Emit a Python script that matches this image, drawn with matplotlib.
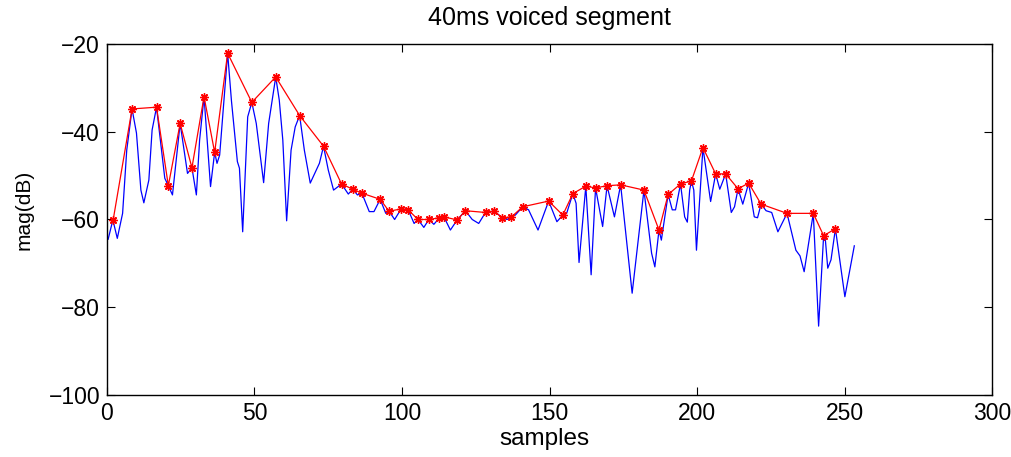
import matplotlib
matplotlib.use("Agg")
import matplotlib.pyplot as plt

plt.rcParams['font.family'] = ['Liberation Sans', 'DejaVu Sans']

# magnitude spectrum of the segment (sample index, dB)
spec_x = [0.4, 2.0, 3.5, 5.3, 6.7, 8.5, 10.0, 11.5, 12.5, 14.2, 15.3, 16.8, 19.6, 20.8, 22.2,
          24.8, 27.3, 28.8, 30.3, 31.4, 32.9, 35.1, 36.5, 37.3, 38.2, 40.9, 42.2, 44.2, 44.9,
          46.0, 47.7, 49.1, 50.6, 53.1, 54.8, 57.2, 58.4, 59.6, 60.9, 62.4, 63.8, 65.3, 66.9,
          68.9, 72.0, 73.4, 75.0, 76.8, 79.5, 81.8, 83.3, 84.9, 86.4, 88.9, 90.5, 92.6, 94.5,
          95.6, 97.5, 99.7, 102.1, 104.1, 105.4, 107.4, 109.1, 110.8, 112.7, 114.2, 116.4,
          118.7, 121.5, 123.8, 126.0, 128.3, 131.2, 134.0, 135.6, 137.1, 138.4, 140.9, 142.9,
          146.1, 149.7, 152.5, 154.5, 155.8, 157.9, 159.0, 160.0, 162.3, 164.1, 165.6, 168.0,
          169.5, 172.0, 174.1, 178.0, 182.0, 184.6, 185.7, 187.1, 187.9, 190.2, 191.6, 192.7,
          194.4, 195.8, 196.7, 197.5, 198.1, 198.9, 199.8, 202.0, 204.6, 206.3, 207.7, 209.7,
          211.6, 212.7, 213.9, 215.5, 217.5, 219.4, 220.5, 221.7, 223.4, 225.3, 227.4, 230.5,
          233.5, 234.9, 236.3, 239.4, 241.2, 242.9, 243.5, 244.3, 245.4, 246.9, 250.1, 253.3]
spec_db = [-64.5, -60.1, -64.3, -58.6, -44.2, -34.8, -40.3, -53.3, -56.2, -51.0, -39.6, -34.4,
           -50.6, -52.3, -54.4, -38.1, -49.5, -48.2, -54.4, -41.9, -32.0, -52.5, -44.7, -47.2,
           -45.3, -22.1, -33.0, -46.8, -48.3, -62.8, -36.6, -33.3, -38.1, -51.6, -38.1, -27.5,
           -32.8, -41.9, -60.3, -44.2, -38.9, -36.3, -44.2, -51.7, -47.2, -43.3, -48.7, -53.3,
           -51.9, -54.2, -53.1, -54.4, -54.0, -58.2, -58.2, -55.4, -58.6, -58.1, -60.0, -57.6,
           -57.8, -60.9, -60.0, -61.8, -60.0, -61.1, -59.6, -59.4, -62.4, -60.1, -58.0, -60.0,
           -60.9, -58.4, -58.1, -59.6, -60.0, -59.4, -59.0, -57.1, -57.8, -62.4, -55.8, -60.5,
           -59.0, -58.6, -54.1, -56.3, -69.8, -52.4, -72.6, -52.8, -61.6, -52.3, -59.4, -52.1,
           -76.8, -53.3, -67.7, -70.8, -62.4, -64.7, -54.3, -57.8, -57.8, -51.9, -59.4, -60.6,
           -53.3, -51.2, -53.3, -67.0, -43.6, -55.9, -49.6, -53.1, -49.6, -58.4, -57.1, -53.0,
           -56.5, -51.7, -59.4, -59.6, -56.5, -58.0, -58.4, -62.8, -58.6, -67.0, -68.3, -71.9,
           -58.6, -84.3, -63.7, -64.7, -71.1, -69.2, -62.1, -77.6, -66.0]

# picked peaks
peak_x = [2.1, 8.5, 16.8, 20.8, 24.8, 28.8, 32.9, 36.5, 40.9, 49.1, 57.2, 65.3, 73.4, 79.5,
          83.3, 86.4, 92.6, 95.6, 99.7, 102.1, 105.4, 109.1, 112.7, 114.2, 118.7, 121.5,
          128.3, 131.2, 134.0, 137.1, 140.9, 149.7, 154.5, 157.9, 162.3, 165.6, 169.5, 174.1,
          182.0, 187.1, 190.2, 194.4, 198.1, 202.0, 206.3, 209.7, 213.9, 217.5, 221.7, 230.5,
          239.4, 242.9, 246.9]
peak_db = [-60.1, -34.8, -34.4, -52.3, -38.1, -48.2, -32.0, -44.7, -22.1, -33.3, -27.5, -36.3,
           -43.3, -51.9, -53.1, -54.0, -55.4, -58.1, -57.6, -57.8, -60.0, -60.0, -59.6, -59.4,
           -60.1, -58.0, -58.4, -58.1, -59.6, -59.4, -57.1, -55.8, -59.0, -54.1, -52.4, -52.8,
           -52.3, -52.1, -53.3, -62.4, -54.3, -51.9, -51.2, -43.6, -49.6, -49.6, -53.0, -51.7,
           -56.5, -58.6, -58.6, -63.7, -62.1]

fig = plt.figure(figsize=(10.11, 4.57), dpi=100)
ax = fig.add_axes([0.1058, 0.1357, 0.8755, 0.768])

ax.plot(spec_x, spec_db, color='#0000ff', linewidth=0.9)
# asterisk markers (8 spokes)
ax.plot(peak_x, peak_db, color='#ff0000', linewidth=0.9, marker=(8, 2, 0), markersize=6,
        markeredgewidth=1.0)

ax.set_xlim(0, 300)
ax.set_ylim(-100, -20)
ax.set_xticks([0, 50, 100, 150, 200, 250, 300])
ax.set_yticks([-100, -80, -60, -40, -20])
ax.tick_params(direction='in', length=5.5, width=0.8, top=True, right=True, labelsize=16.5)
ax.tick_params(axis='x', pad=5)
ax.tick_params(axis='y', pad=5)
for s in ax.spines.values():
    s.set_linewidth(1.0)

ax.set_title('40ms voiced segment', fontsize=18, pad=14)
ax.set_xlabel('samples', fontsize=17.5, va='baseline')
ax.xaxis.set_label_coords(0.494, -0.1425)
ax.set_ylabel('mag(dB)', fontsize=15, va='center')
ax.yaxis.set_label_coords(-0.0935, 0.527)

fig.savefig('out.png', dpi=100)
